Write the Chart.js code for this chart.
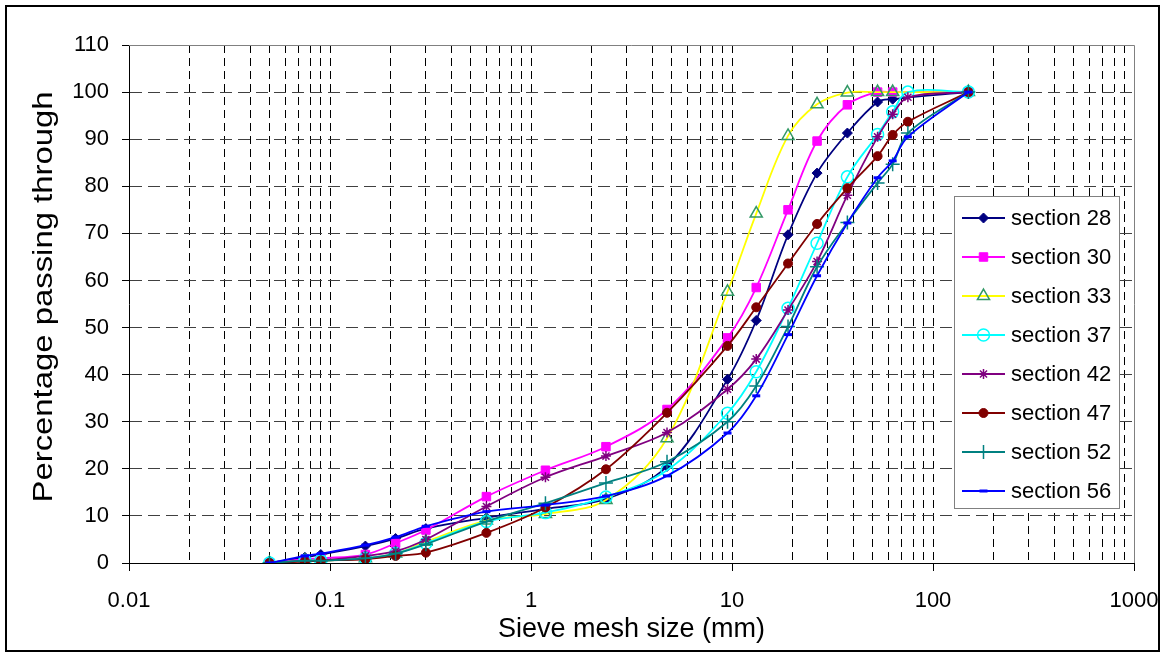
<!DOCTYPE html>
<html>
<head>
<meta charset="utf-8">
<style>
  body { margin: 0; background: #fff; }
  #wrap { width: 1163px; height: 653px; }
</style>
<script src="https://cdn.jsdelivr.net/npm/chart.js@4.4.1/dist/chart.umd.min.js"></script>
</head>
<body>
<div id="wrap"><canvas id="chart" width="1163" height="653"></canvas></div>
<script>
// sieve sizes (mm) and percent passing for each section
const sieveSizes = [0.05, 0.075, 0.09, 0.15, 0.212, 0.3, 0.6, 1.18, 2.36, 4.75, 9.5, 13.2, 19, 26.5, 37.5, 53, 63, 75, 150];
const section28 = [0, 1.2, 1.8, 3.6, 5.2, 7.3, 9.6, 11.5, 13.6, 20.5, 39, 51.5, 69.7, 82.8, 91.3, 97.9, 98.5, null, 100];
const section30 = [0, 0.8, 1, 1.8, 4.2, 7, 14.1, 19.7, 24.7, 32.6, 47.8, 58.5, 75, 89.6, 97.3, 100, 100, null, 100];
const section33 = [0, 0.5, 0.5, 1, 2, 4.5, 9, 10.4, 13.4, 26.5, 57.6, 74.2, 90.7, 97.4, 99.9, 100, 100, null, 100];
const section37 = [0, 0.5, 0.5, 1, 2, 4.2, 8.8, 10.7, 14, 19.7, 31.8, 40.6, 54.1, 67.9, 82, 91, 95.8, 100, 100];
const section42 = [0, 0.5, 0.5, 1.5, 2.5, 5, 12, 18.2, 22.7, 27.7, 36.9, 43.3, 53.7, 64, 78.1, 90.5, 95.3, 98.9, 100];
const section47 = [0, 0.3, 0.5, 0.8, 1.5, 2.2, 6.4, 11.8, 19.9, 31.9, 46.1, 54.3, 63.6, 72, 79.6, 86.4, 90.9, 93.7, 100];
const section52 = [0, 0.5, 0.5, 1, 2, 4, 8.8, 12.7, 17, 21.5, 30, 37.6, 50.2, 62.9, 72.3, 80.7, 84.7, 91.3, 100];
const section56 = [0, 1.5, 2, 3.8, 5.5, 7.8, 10.9, 12.3, 14.2, 18.5, 27.6, 35.5, 48.5, 61, 72.2, 81.8, 85.4, 90.5, 100];
const seriesNames = ['section 28', 'section 30', 'section 33', 'section 37', 'section 42', 'section 47', 'section 52', 'section 56'];
const decadeLabels = ['0.01', '0.1', '1', '10', '100', '1000'];

const FONT = "'Liberation Sans', Arial, sans-serif";
const decadeValues = decadeLabels.map(Number);

// 1..9 per decade for the log grid
const xTickValues = [];
for (let e = -2; e <= 2; e++) {
  for (let m = 1; m <= 9; m++) xTickValues.push(Number((m * Math.pow(10, e)).toPrecision(4)));
}
xTickValues.push(1000);

function pts(vals) {
  return sieveSizes.map((s, i) => ({ x: s, y: vals[i] })).filter(p => p.y !== null);
}

function series(label, vals, color, style, radius, fill, border, bw) {
  return {
    label: label,
    data: pts(vals),
    borderColor: color,
    borderWidth: 1.8,
    tension: 0.35,
    pointStyle: style,
    pointRadius: radius,
    pointHoverRadius: radius,
    pointBackgroundColor: fill,
    pointBorderColor: border,
    pointBorderWidth: bw
  };
}

const datasets = [
  series(seriesNames[0], section28, '#000080', 'rectRot', 5, '#000080', '#000080', 1),
  series(seriesNames[1], section30, '#FF00FF', 'rect', 6, '#FF00FF', '#FF00FF', 1),
  series(seriesNames[2], section33, '#FFFF00', 'triangle', 7, 'rgba(0,0,0,0)', '#339966', 1.5),
  series(seriesNames[3], section37, '#00FFFF', 'circle', 6, 'rgba(0,0,0,0)', '#00FFFF', 1.5),
  series(seriesNames[4], section42, '#800080', 'star', 5, '#800080', '#800080', 1.5),
  series(seriesNames[5], section47, '#800000', 'circle', 4.5, '#800000', '#800000', 1),
  series(seriesNames[6], section52, '#008080', 'cross', 7, '#008080', '#008080', 1.5),
  series(seriesNames[7], section56, '#0000FF', 'line', 4, '#0000FF', '#0000FF', 3)
];
datasets.forEach((d, i) => { d.order = datasets.length - i; });

const decor = {
  id: 'decor',
  beforeDraw(chart) {
    const c = chart.ctx;
    c.save();
    c.fillStyle = '#fff';
    c.fillRect(0, 0, chart.width, chart.height);
    c.restore();
  },
  afterDraw(chart) {
    const c = chart.ctx, a = chart.chartArea;
    c.save();
    // plot frame top / right
    c.strokeStyle = '#808080';
    c.lineWidth = 1;
    c.beginPath();
    c.moveTo(a.left, a.top + 0.5);
    c.lineTo(a.right + 0.5, a.top + 0.5);
    c.lineTo(a.right + 0.5, a.bottom);
    c.stroke();
    // outer border
    c.strokeStyle = '#000';
    c.lineWidth = 2;
    c.strokeRect(6, 6, 1153, 645);

    // axis titles
    c.fillStyle = '#000';
    c.font = '27px ' + FONT;
    c.textAlign = 'center';
    c.textBaseline = 'alphabetic';
    c.fillText('Sieve mesh size (mm)', (a.left + a.right) / 2, 637);
    const yt = 'Percentage passing through';
    c.save();
    c.translate(52, 297);
    c.rotate(-Math.PI / 2);
    c.scale(411 / c.measureText(yt).width, 1);
    c.fillText(yt, 0, 0);
    c.restore();

    // legend
    c.fillStyle = '#fff';
    c.fillRect(954, 196, 165, 312);
    c.strokeStyle = '#808080';
    c.lineWidth = 1;
    c.strokeRect(954.5, 196.5, 165, 312);
    chart.data.datasets.forEach((ds, i) => {
      const y = 218 + i * 39;
      c.strokeStyle = ds.borderColor;
      c.lineWidth = ds.borderWidth;
      c.beginPath();
      c.moveTo(962, y);
      c.lineTo(1005, y);
      c.stroke();
      c.fillStyle = ds.pointBackgroundColor;
      c.strokeStyle = ds.pointBorderColor;
      c.lineWidth = ds.pointBorderWidth;
      if (Chart.helpers && Chart.helpers.drawPoint) {
        Chart.helpers.drawPoint(c, { pointStyle: ds.pointStyle, radius: ds.pointRadius, rotation: 0, borderWidth: ds.pointBorderWidth }, 983.5, y);
      }
      c.fillStyle = '#000';
      c.font = '22px ' + FONT;
      c.textAlign = 'left';
      c.textBaseline = 'middle';
      c.fillText(ds.label, 1011, y + 1);
    });
    c.restore();
  }
};

new Chart(document.getElementById('chart').getContext('2d'), {
  type: 'line',
  data: { datasets: datasets },
  plugins: [decor],
  options: {
    responsive: false,
    animation: false,
    devicePixelRatio: 1,
    layout: { padding: { top: 45, right: 29, left: 0, bottom: 0 } },
    plugins: { legend: { display: false }, tooltip: { enabled: false } },
    scales: {
      x: {
        type: 'logarithmic',
        min: 0.01,
        max: 1000,
        afterBuildTicks(scale) {
          scale.ticks = xTickValues.map(v => ({ value: v, major: decadeValues.includes(v) }));
        },
        afterFit(scale) {
          scale.height = 90;
          scale.paddingLeft = 0;
          scale.paddingRight = 0;
        },
        ticks: {
          autoSkip: false,
          maxRotation: 0,
          minRotation: 0,
          padding: 17,
          color: '#000',
          font: { family: FONT, size: 22 },
          callback(value) {
            const k = decadeValues.indexOf(Number(value));
            return k >= 0 ? decadeLabels[k] : '';
          }
        },
        grid: {
          color: ctx => (ctx.tick && ctx.tick.value === 1000) ? 'rgba(0,0,0,0)' : '#000',
          lineWidth: 1,
          tickLength: 8,
          tickColor: ctx => (ctx.tick && ctx.tick.major) ? '#000' : 'rgba(0,0,0,0)'
        },
        border: { display: true, color: '#000', width: 1, dash: [8, 5] }
      },
      y: {
        type: 'linear',
        min: 0,
        max: 110,
        afterFit(scale) {
          scale.width = 129;
          scale.paddingTop = 0;
          scale.paddingBottom = 0;
        },
        ticks: {
          stepSize: 10,
          padding: 13,
          color: '#000',
          font: { family: FONT, size: 22 }
        },
        grid: {
          color: ctx => (ctx.tick && ctx.tick.value === 110) ? 'rgba(0,0,0,0)' : '#404040',
          lineWidth: 1,
          tickLength: 7,
          tickColor: '#000'
        },
        border: { display: true, color: '#000', width: 1, dash: [12, 6] }
      }
    }
  }
});
</script>
</body>
</html>
